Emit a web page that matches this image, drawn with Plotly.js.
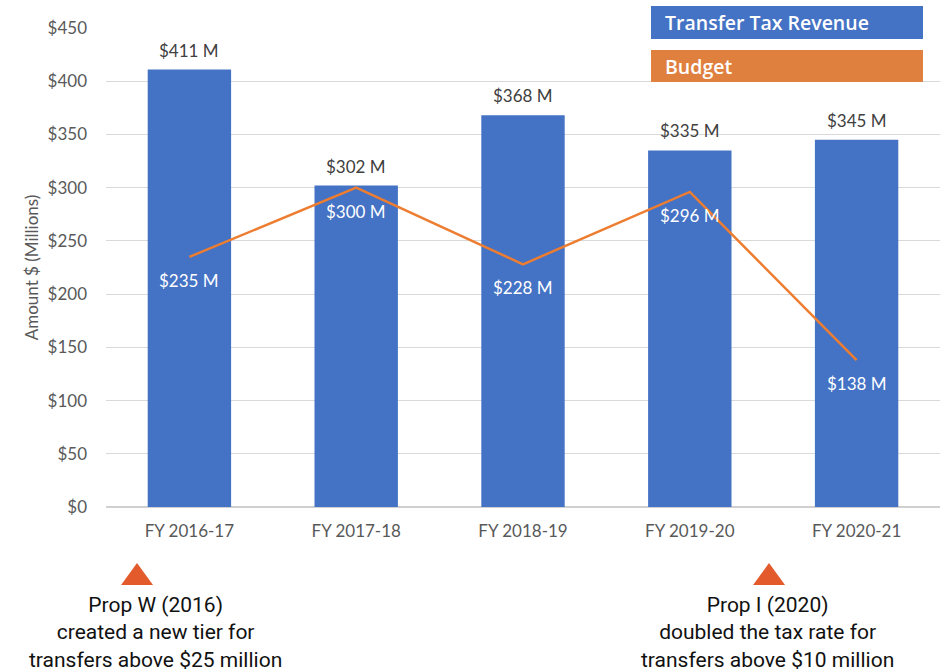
<!DOCTYPE html>
<html><head><meta charset="utf-8">
<script src="https://cdn.plot.ly/plotly-3.0.1.min.js"></script>
<style>html,body{margin:0;padding:0;background:#fff;}#chart{width:940px;height:671px;}</style>
</head><body><div id="chart"></div>
<script>
const categories = ["FY 2016-17","FY 2017-18","FY 2018-19","FY 2019-20","FY 2020-21"];
const revenue = [411, 302, 368, 335, 345];
const budget = [235, 300, 228, 296, 138];
const revenueLabels = ["$411 M","$302 M","$368 M","$335 M","$345 M"];
const budgetLabels = ["$235 M","$300 M","$228 M","$296 M","$138 M"];
const yTickVals = [0,50,100,150,200,250,300,350,400,450];
const yTickText = ["$0","$50","$100","$150","$200","$250","$300","$350","$400","$450"];
const legendNames = ["Transfer Tax Revenue","Budget"];
const noteTexts = [
  "Prop W (2016)<br>created a new tier for<br>transfers above $25 million",
  "Prop I (2020)<br>doubled the tax rate for<br>transfers above $10 million"
];

// layout constants (positions in paper fraction)
const noteTextX = [0.0588, 0.7935];
const noteTriX = [0.0372, 0.7950];

const blue = "#4472C4", orange = "#ED7D31";
const baseFont = "Lato, 'Open Sans', sans-serif";
const tickFont = {family:baseFont, size:17, color:"#595959"};

const traces = [
  {type:"bar", x:categories, y:revenue, marker:{color:blue}, width:0.5, hoverinfo:"none", showlegend:false},
  {type:"scatter", mode:"lines", x:categories, y:budget, line:{color:orange, width:2.5}, hoverinfo:"none", showlegend:false}
];

const annotations = [];
categories.forEach((c,i)=>{
  annotations.push({x:c, y:revenue[i], xref:"x", yref:"y", text:revenueLabels[i], showarrow:false,
    yanchor:"bottom", yshift:7, font:{family:baseFont, size:17, color:"#404040"}});
  annotations.push({x:c, y:budget[i], xref:"x", yref:"y", text:budgetLabels[i], showarrow:false,
    yanchor:"top", yshift:-11, font:{family:baseFont, size:17, color:"#ffffff"}});
});
// legend box labels
annotations.push({xref:"paper", yref:"paper", x:0.6535, y:1.0, text:legendNames[0], showarrow:false,
  xanchor:"left", yanchor:"middle", yshift:6, xshift:12, font:{family:"'Open Sans', sans-serif", size:19.5, weight:600, color:"#ffffff"}});
annotations.push({xref:"paper", yref:"paper", x:0.6535, y:1.0, text:legendNames[1], showarrow:false,
  xanchor:"left", yanchor:"middle", yshift:-38, xshift:12, font:{family:"'Open Sans', sans-serif", size:19.5, weight:600, color:"#ffffff"}});

const shapes = [];
shapes.push({type:"rect", xref:"paper", yref:"paper", ysizemode:"pixel", yanchor:1.0, x0:0.6535, x1:0.9796, y0:22, y1:-11, fillcolor:blue, line:{width:0}, layer:"above"});
shapes.push({type:"rect", xref:"paper", yref:"paper", ysizemode:"pixel", yanchor:1.0, x0:0.6535, x1:0.9796, y0:-22, y1:-54, fillcolor:"#E0803F", line:{width:0}, layer:"above"});

noteTexts.forEach((t,i)=>{
  shapes.push({type:"path", xref:"paper", yref:"paper", xsizemode:"pixel", ysizemode:"pixel",
    xanchor:noteTriX[i], yanchor:0, path:"M-16,-78 L16,-78 L0,-56 Z", fillcolor:"#E35B2C", line:{width:0}});
  annotations.push({xref:"paper", yref:"paper", x:noteTextX[i], y:0, text:t, showarrow:false, yanchor:"top",
    xanchor:"center", yshift:-84, align:"center",
    font:{family:"Roboto, sans-serif", size:21, color:"#111111"}});
});

const layout = {
  width:940, height:671,
  margin:{l:106, r:0, t:28, b:164},
  paper_bgcolor:"#ffffff", plot_bgcolor:"#ffffff",
  xaxis:{type:"category", range:[-0.5,4.5], tickfont:tickFont, showgrid:false, showline:false, ticks:"", ticklabelstandoff:12},
  yaxis:{range:[0,450], tickvals:yTickVals, ticktext:yTickText, tickfont:tickFont,
    gridcolor:"#d9d9d9", gridwidth:1, zeroline:true, zerolinecolor:"#d0d0d0", zerolinewidth:1.5,
    ticklabelstandoff:18, showline:false,
    title:{text:"Amount $ (Millions)", font:{family:baseFont, size:17, color:"#595959"}, standoff:4}},
  annotations:annotations,
  shapes:shapes,
  showlegend:false
};
Plotly.newPlot("chart", traces, layout, {displayModeBar:false, staticPlot:true});
</script></body></html>
